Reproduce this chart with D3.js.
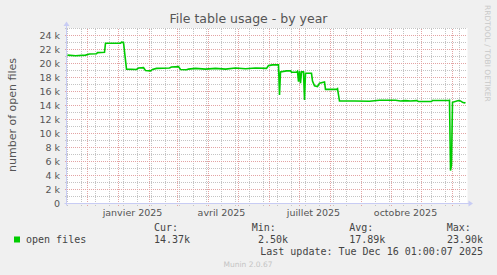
<!DOCTYPE html>
<html>
<head>
<meta charset="utf-8">
<script src="https://cdn.jsdelivr.net/npm/d3@7"></script>
<style>
  html, body { margin: 0; padding: 0; background: #f0f0f0; }
  #chart { width: 497px; height: 275px; }
  text { font-family: "DejaVu Sans", sans-serif; }
  .mono { font-family: "DejaVu Sans Mono", monospace; font-size: 10px; fill: #444; }
</style>
</head>
<body>
<div id="chart"></div>
<script>
// values
var dates = ["2024-11-12","2024-11-20","2024-11-30","2024-12-04","2024-12-11","2024-12-12","2024-12-19","2024-12-20",
    "2025-01-04","2025-01-05","2025-01-07","2025-01-10","2025-01-20","2025-01-22","2025-01-27","2025-01-29",
    "2025-02-03","2025-02-05","2025-02-09","2025-02-22","2025-02-24","2025-03-03","2025-03-05","2025-03-11",
    "2025-03-13","2025-03-20","2025-03-30","2025-04-09","2025-04-19","2025-04-29","2025-05-09","2025-05-19",
    "2025-05-30","2025-06-01","2025-06-05","2025-06-11","2025-06-12","2025-06-13","2025-06-19","2025-06-23",
    "2025-06-24","2025-06-29","2025-06-30","2025-07-01","2025-07-02","2025-07-03","2025-07-04","2025-07-06",
    "2025-07-07","2025-07-08","2025-07-14","2025-07-15","2025-07-17","2025-07-20","2025-07-22","2025-07-27",
    "2025-07-28","2025-08-08","2025-08-09","2025-08-11","2025-08-26","2025-09-10","2025-09-20","2025-10-06",
    "2025-10-11","2025-10-16","2025-10-21","2025-10-27","2025-10-29","2025-11-11","2025-11-12","2025-11-28",
    "2025-11-29","2025-11-30","2025-12-01","2025-12-02","2025-12-08","2025-12-10","2025-12-12","2025-12-14",
    "2025-12-15"];
var openFiles = [21200,21100,21200,21350,21400,21550,21600,22900,
    22900,23050,23000,19200,19150,19350,19400,19000,
    18950,19150,19300,19350,19500,19550,19150,19100,
    19200,19300,19200,19300,19200,19350,19250,19350,
    19300,19700,19800,19800,15500,18800,18950,18950,
    18750,18750,18900,17400,18900,17200,18800,18800,
    14800,18600,18600,17500,16800,16700,17200,17350,
    16300,16300,16400,14640,14640,14600,14750,14750,
    14650,14700,14650,14700,14570,14570,14720,14720,
    14750,4700,5500,14450,14700,14650,14450,14360,
    14450];

var yTicks = [0,2000,4000,6000,8000,10000,12000,14000,16000,18000,20000,22000,24000];
var yTickLabels = ["0","2 k","4 k","6 k","8 k","10 k","12 k","14 k","16 k","18 k","20 k","22 k","24 k"];
var monthLabelDates = ["2025-01-16","2025-04-15","2025-07-16","2025-10-16"];
var monthLabels = ["janvier 2025","avril 2025","juillet 2025","octobre 2025"];

var statNames = ["Cur:","Min:","Avg:","Max:"];
var statValues = ["14.37k","2.50k","17.89k","23.90k"];

var width = 497, height = 275;
var plot = {left: 66.5, right: 466.5, top: 28.5, bottom: 203.5};

var svg = d3.select("#chart")
    .append("svg")
    .attr("width", width)
    .attr("height", height);

svg.append("rect")
    .attr("width", width)
    .attr("height", height)
    .attr("fill", "#f0f0f0");

var parse = d3.utcParse("%Y-%m-%d");
var start = new Date(Date.UTC(2024, 10, 11));
var end = new Date(Date.UTC(2025, 11, 16));

var xScale = d3.scaleUtc()
    .domain([start, end])
    .range([plot.left, plot.right]);

var yScale = d3.scaleLinear()
    .domain([0, 25000])
    .range([plot.bottom, plot.top]);

// plot canvas
svg.append("rect")
    .attr("x", plot.left)
    .attr("y", plot.top - 0.5)
    .attr("width", plot.right - plot.left + 1)
    .attr("height", plot.bottom - plot.top + 1)
    .attr("fill", "#ffffff");

var grid = svg.append("g").attr("shape-rendering", "crispEdges");

// vertical minor grid (every 2 weeks, mondays)
var anchor = new Date(Date.UTC(2024, 10, 25));
var minorX = d3.utcMonday.range(start, end).filter(function(d) {
    return Math.round((d - anchor) / 864e5 / 7) % 2 === 0;
});
grid.selectAll(".vminor")
    .data(minorX)
    .enter()
    .append("line")
        .attr("x1", function(d) { return Math.round(xScale(d)) + 0.5; })
        .attr("x2", function(d) { return Math.round(xScale(d)) + 0.5; })
        .attr("y1", plot.top)
        .attr("y2", plot.bottom + 2)
        .attr("stroke", "#c4c4c4")
        .attr("stroke-dasharray", "1,1");

// horizontal minor grid
var minorY = d3.range(1000, 25001, 1000).filter(function(v) { return v % 2000 !== 0; });
grid.selectAll(".hminor")
    .data(minorY)
    .enter()
    .append("line")
        .attr("x1", plot.left - 2)
        .attr("x2", plot.right)
        .attr("y1", function(d) { return yScale(d); })
        .attr("y2", function(d) { return yScale(d); })
        .attr("stroke", "#c4c4c4")
        .attr("stroke-dasharray", "1,1");

// major grid: months and every 2 k
var months = d3.utcMonth.range(start, end);
grid.selectAll(".vmajor")
    .data(months)
    .enter()
    .append("line")
        .attr("x1", function(d) { return Math.round(xScale(d)) + 0.5; })
        .attr("x2", function(d) { return Math.round(xScale(d)) + 0.5; })
        .attr("y1", plot.top)
        .attr("y2", plot.bottom + 3)
        .attr("stroke", "#e3a3a3")
        .attr("stroke-dasharray", "1,1");

grid.selectAll(".hmajor")
    .data(yTicks.slice(1))
    .enter()
    .append("line")
        .attr("x1", plot.left - 2)
        .attr("x2", plot.right)
        .attr("y1", function(d) { return yScale(d); })
        .attr("y2", function(d) { return yScale(d); })
        .attr("stroke", "#e3a3a3")
        .attr("stroke-dasharray", "1,1");

// axes with arrows
var axisColor = "#c8ccf4";
svg.append("line")
    .attr("x1", plot.left).attr("x2", plot.left)
    .attr("y1", plot.bottom + 2).attr("y2", 24)
    .attr("stroke", axisColor);
svg.append("line")
    .attr("x1", plot.left - 2).attr("x2", 470)
    .attr("y1", plot.bottom).attr("y2", plot.bottom)
    .attr("stroke", axisColor);
svg.append("path")
    .attr("d", "M" + (plot.left - 3) + ",26 L" + plot.left + ",21.5 L" + (plot.left + 3) + ",26 Z")
    .attr("fill", axisColor);
svg.append("path")
    .attr("d", "M468.5," + (plot.bottom - 3) + " L473," + plot.bottom + " L468.5," + (plot.bottom + 3) + " Z")
    .attr("fill", axisColor);

// y tick labels
svg.selectAll(".ylab")
    .data(yTicks)
    .enter()
    .append("text")
        .attr("x", 60)
        .attr("y", function(d) { return yScale(d); })
        .attr("dy", "0.36em")
        .attr("text-anchor", "end")
        .attr("font-size", "9.5px")
        .attr("fill", "#555")
        .text(function(d, i) { return yTickLabels[i]; });

// x labels
svg.selectAll(".xlab")
    .data(monthLabelDates)
    .enter()
    .append("text")
        .attr("x", function(d) { return xScale(parse(d)); })
        .attr("y", 216)
        .attr("text-anchor", "middle")
        .attr("font-size", "9.5px")
        .attr("fill", "#555")
        .text(function(d, i) { return monthLabels[i]; });

// the series
var line = d3.line()
    .x(function(d, i) { return xScale(parse(dates[i])); })
    .y(function(d) { return yScale(d); });

svg.append("path")
    .datum(openFiles)
    .attr("d", line)
    .attr("fill", "none")
    .attr("stroke", "#00cc00")
    .attr("stroke-width", 1.6);

// title and axis label
svg.append("text")
    .attr("x", 248.5)
    .attr("y", 23)
    .attr("text-anchor", "middle")
    .attr("font-size", "12.5px")
    .attr("fill", "#555")
    .text("File table usage - by year");

svg.append("text")
    .attr("transform", "rotate(-90)")
    .attr("x", -115)
    .attr("y", 15.5)
    .attr("text-anchor", "middle")
    .attr("font-size", "11px")
    .attr("fill", "#555")
    .text("number of open files");

svg.append("text")
    .attr("transform", "translate(485,5) rotate(90)")
    .attr("font-size", "7.5px")
    .attr("fill", "#c8c8c8")
    .text("RRDTOOL / TOBI OETIKER");

// legend
svg.append("rect")
    .attr("x", 14).attr("y", 236.5)
    .attr("width", 6).attr("height", 6)
    .attr("fill", "#00cc00");

svg.append("text")
    .attr("class", "mono")
    .attr("x", 26).attr("y", 243)
    .text("open files");

var statX = [154, 251.7, 349.3, 446.7];
var statEnd = [190, 288, 385.3, 483];
svg.selectAll(".statname")
    .data(statNames)
    .enter()
    .append("text")
        .attr("class", "mono")
        .attr("x", function(d, i) { return statX[i]; })
        .attr("y", 231)
        .text(function(d) { return d; });

svg.selectAll(".statval")
    .data(statValues)
    .enter()
    .append("text")
        .attr("class", "mono")
        .attr("x", function(d, i) { return statEnd[i]; })
        .attr("y", 243)
        .attr("text-anchor", "end")
        .text(function(d) { return d; });

svg.append("text")
    .attr("class", "mono")
    .attr("x", 483)
    .attr("y", 255)
    .attr("text-anchor", "end")
    .text("Last update: Tue Dec 16 01:00:07 2025");

svg.append("text")
    .attr("x", 248)
    .attr("y", 267)
    .attr("text-anchor", "middle")
    .attr("font-size", "7.5px")
    .attr("fill", "#c4c4c4")
    .text("Munin 2.0.67");
</script>
</body>
</html>
